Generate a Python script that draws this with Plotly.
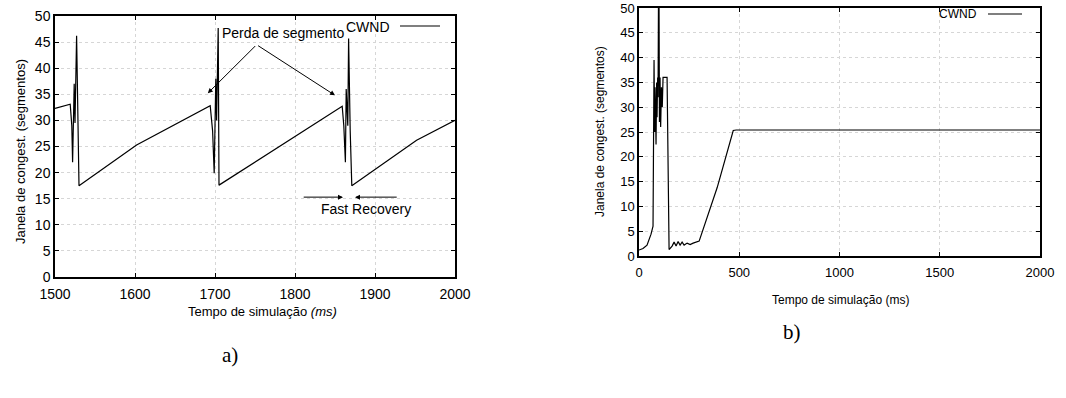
import plotly.graph_objects as go

# ---- data: panel a) (CWND between 1500 and 2000 ms) ----
a_time = [1500, 1519, 1521, 1522, 1524, 1525, 1527, 1530, 1602, 1694, 1697, 1699, 1701, 1702, 1704, 1705,
          1859, 1861, 1863, 1864, 1866, 1867, 1869, 1871, 1952, 2000]
a_cwnd = [32.3, 33.1, 29.0, 22.0, 37.0, 29.5, 46.2, 17.5, 25.3, 32.8, 28.0, 19.9, 38.0, 30.0, 47.7, 17.6,
          32.7, 29.0, 22.0, 36.0, 29.0, 45.7, 28.0, 17.5, 26.2, 30.0]

# ---- data: panel b) (CWND between 0 and 2000 ms) ----
b_time = [0, 20, 40, 60, 70, 75, 78, 80, 82, 85, 88, 90, 93, 95, 97, 100, 102, 105, 108, 112, 116, 120,
          140, 150, 165, 175, 185, 195, 205, 215, 225, 240, 255, 270, 300, 320, 390, 470, 485, 2000]
b_cwnd = [1.2, 1.5, 2.2, 4.4, 6.0, 39.5, 25.0, 34.0, 30.0, 22.5, 35.0, 28.0, 36.0, 32.0, 50.0, 50.0,
          27.0, 36.0, 26.0, 34.0, 30.0, 36.0, 36.0, 1.3, 2.0, 2.8, 2.0, 2.9, 2.2, 2.8, 2.2, 2.6, 2.3, 2.6,
          3.0, 5.3, 13.8, 25.3, 25.4, 25.4]

a_ticks = [1500, 1600, 1700, 1800, 1900, 2000]
b_ticks = [0, 500, 1000, 1500, 2000]
y_ticks = [0, 5, 10, 15, 20, 25, 30, 35, 40, 45, 50]

W, H = 1066, 398
def px(x):
    return x / W
def py(y):
    return 1 - y / H

FONT = "Liberation Sans, Arial, sans-serif"

fig = go.Figure()
fig.add_trace(go.Scatter(x=a_time, y=a_cwnd, mode="lines", line=dict(color="black", width=1.2),
                         xaxis="x", yaxis="y", showlegend=False, name="CWND"))
fig.add_trace(go.Scatter(x=b_time, y=b_cwnd, mode="lines", line=dict(color="black", width=1.2),
                         xaxis="x2", yaxis="y2", showlegend=False, name="CWND"))

axis_common = dict(showline=True, linecolor="black", linewidth=1.5, mirror="ticks",
                   ticks="inside", ticklen=4, tickcolor="black", zeroline=False, automargin=False,
                   ticklabeloverflow="allow",
                   showgrid=True, gridcolor="#d6d6d6", griddash="dot", gridwidth=1)

fig.update_layout(
    width=W, height=H, margin=dict(l=0, r=0, t=0, b=0, pad=0), autosize=False,
    paper_bgcolor="white", plot_bgcolor="white",
    font=dict(family=FONT, color="black"),
    xaxis=dict(domain=[px(55), px(455)], range=[1500, 2000], tickvals=a_ticks,
               tickfont=dict(size=14), anchor="y", ticklabelstandoff=3, **axis_common),
    yaxis=dict(domain=[py(277), py(16)], range=[0, 50], tickvals=y_ticks,
               tickfont=dict(size=14), anchor="x", **axis_common),
    xaxis2=dict(domain=[px(639), px(1040)], range=[0, 2000], tickvals=b_ticks,
                tickfont=dict(size=13), anchor="y2", ticklabelstandoff=4, **axis_common),
    yaxis2=dict(domain=[py(256), py(8)], range=[0, 50], tickvals=y_ticks,
                tickfont=dict(size=13), anchor="x2", **axis_common),
)

ann = []
def text(x, y, s, size, **kw):
    d = dict(x=px(x), y=py(y), xref="paper", yref="paper", text=s, showarrow=False,
             xanchor="center", yanchor="middle", font=dict(size=size))
    d.update(kw)
    ann.append(d)

# axis titles
text(20, 152, "Janela de congest. (segmentos)", 13, textangle=-90)
text(262, 311, "Tempo de simulação <i>(ms)</i>", 13)
text(600, 132, "Janela de congest. (segmentos)", 12, textangle=-90)
text(840, 300, "Tempo de simulação (ms)", 12)
# panel labels
text(230, 355, "a)", 21, font=dict(size=21, family="Liberation Serif, Times New Roman, serif"))
text(792, 332, "b)", 21, font=dict(size=21, family="Liberation Serif, Times New Roman, serif"))
# legends
text(392, 27, "CWND", 14, xanchor="right")
text(979, 14, "CWND", 12, xanchor="right")

# Perda de segmento
ann.append(dict(x=1785, y=46.8, xref="x", yref="y", text="Perda de segmento", showarrow=False,
                font=dict(size=14)))
ann.append(dict(x=1691, y=35.2, ax=1752, ay=44.5, xref="x", yref="y", axref="x", ayref="y", text="",
                showarrow=True, arrowhead=2, arrowsize=1, arrowwidth=1, arrowcolor="black"))
ann.append(dict(x=1850, y=34.8, ax=1752, ay=44.5, xref="x", yref="y", axref="x", ayref="y", text="",
                showarrow=True, arrowhead=2, arrowsize=1, arrowwidth=1, arrowcolor="black"))
# Fast Recovery
ann.append(dict(x=1889, y=13.0, xref="x", yref="y", text="Fast Recovery", showarrow=False,
                font=dict(size=14)))
ann.append(dict(x=1860, y=15.3, ax=1809, ay=15.3, xref="x", yref="y", axref="x", ayref="y", text="",
                showarrow=True, arrowhead=2, arrowsize=1, arrowwidth=1, arrowcolor="black"))
ann.append(dict(x=1875, y=15.3, ax=1929, ay=15.3, xref="x", yref="y", axref="x", ayref="y", text="",
                showarrow=True, arrowhead=2, arrowsize=1, arrowwidth=1, arrowcolor="black"))
fig.update_layout(annotations=ann)

# legend line samples
fig.add_shape(type="line", xref="paper", yref="paper", x0=px(400), x1=px(440), y0=py(26), y1=py(26),
              line=dict(color="black", width=1.2))
fig.add_shape(type="line", xref="paper", yref="paper", x0=px(988), x1=px(1022), y0=py(14), y1=py(14),
              line=dict(color="black", width=1.2))

fig.write_html("out.html")
